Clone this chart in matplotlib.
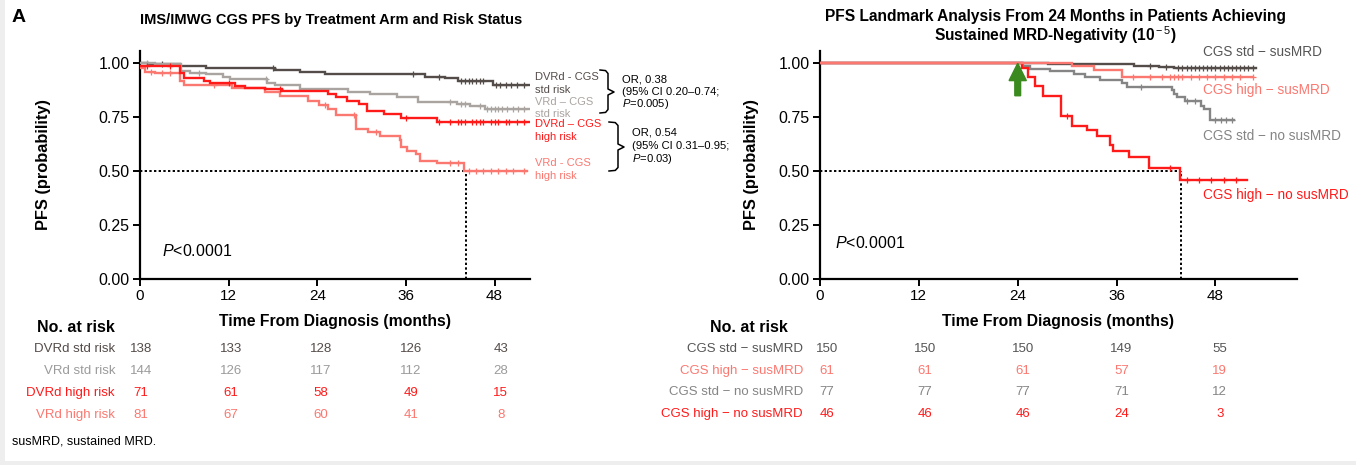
import numpy as np
import matplotlib
matplotlib.use('Agg')
import matplotlib.pyplot as plt
from matplotlib.transforms import blended_transform_factory
from matplotlib.lines import Line2D
from matplotlib.patches import Rectangle, FancyArrow

plt.rcParams['font.family'] = ['Liberation Sans', 'DejaVu Sans']
plt.rcParams['mathtext.fontset'] = 'custom'
plt.rcParams['mathtext.rm'] = 'Liberation Sans'
plt.rcParams['mathtext.it'] = 'Liberation Sans:italic'
plt.rcParams['mathtext.bf'] = 'Liberation Sans:bold'

# ---------------- data ----------------
x_ticks = [0, 12, 24, 36, 48]
y_ticks = [0.0, 0.25, 0.50, 0.75, 1.00]
y_ticklabels = ["0.00", "0.25", "0.50", "0.75", "1.00"]

# Left panel: IMS/IMWG CGS PFS by arm and risk
dvrd_std_t = [1.1, 5.4, 9.0, 18.3, 21.7, 25.0, 38.6, 41.3, 43.0, 47.8]
dvrd_std_s = [0.994, 0.986, 0.975, 0.966, 0.958, 0.948, 0.937, 0.930, 0.917, 0.897]
dvrd_std_c = [3, 18, 37, 40.5, 43.5, 44, 44.5, 45, 45.5, 46, 46.5, 48.2, 48.8, 49.5, 50.2, 51, 52]

vrd_std_t = [2.0, 5.6, 6.8, 9.0, 11.3, 12.2, 17.2, 18.3, 21.7, 28.2, 31.2, 34.8, 37.7, 42.9, 44.7, 46.7]
vrd_std_s = [0.995, 0.963, 0.955, 0.948, 0.937, 0.925, 0.909, 0.897, 0.879, 0.866, 0.856, 0.840,
             0.820, 0.810, 0.799, 0.787]
vrd_std_c = [1, 8, 17, 42, 43.5, 44, 46, 47, 47.5, 48, 48.5, 49, 49.7, 50.5, 51.2, 52]

dvrd_high_t = [5.4, 5.9, 8.6, 9.5, 12.9, 14.2, 16.9, 19.2, 25.5, 26.6, 28.0, 29.6, 30.7, 33.0, 35.4, 40.2]
dvrd_high_s = [0.955, 0.932, 0.917, 0.909, 0.894, 0.886, 0.879, 0.871, 0.856, 0.840, 0.825, 0.809,
               0.779, 0.764, 0.745, 0.728]
dvrd_high_c = [1, 4, 12, 19, 36, 40.5, 42, 43, 43.5, 44, 45, 45.5, 46, 46.5, 47.5, 48, 48.5, 49.5, 50, 51, 52]

vrd_high_t = [0.7, 2.0, 5.4, 5.9, 12.4, 16.9, 19.0, 22.8, 24.2, 25.5, 26.5, 29.3, 30.9, 32.5, 35.2,
              35.4, 36.1, 37.3, 37.9, 40.2, 43.9]
vrd_high_s = [0.958, 0.955, 0.917, 0.897, 0.886, 0.863, 0.848, 0.825, 0.805, 0.787, 0.760, 0.694,
              0.679, 0.664, 0.641, 0.610, 0.594, 0.579, 0.548, 0.536, 0.498]
vrd_high_c = [1.5, 3, 4, 10, 25, 29, 32, 42, 43, 44.5, 45.5, 46.5, 47.5, 48.5, 49.5, 50.5, 52]

# Right panel: landmark from 24 months
std_sus_t = [27.7, 38.1, 41.1, 43.0]
std_sus_s = [0.993, 0.987, 0.980, 0.975]
std_sus_c = [40, 42, 43.5, 44, 44.5, 45, 45.5, 46, 46.5, 47, 47.5, 48, 48.5, 49, 49.5, 50, 50.5, 51, 51.5, 52, 52.5]

high_sus_t = [30.6, 33.2, 36.7]
high_sus_s = [0.984, 0.968, 0.935]
high_sus_c = [38, 40, 41.5, 42.5, 43, 43.5, 44, 45, 46, 47, 48, 49, 50, 51, 52.5]

std_nosus_t = [24.7, 25.5, 27.9, 30.8, 32.2, 34.0, 36.6, 37.3, 42.7, 43.0, 43.3, 44.3, 46.2, 46.6, 47.4]
std_nosus_s = [0.987, 0.974, 0.961, 0.948, 0.935, 0.922, 0.909, 0.887, 0.873, 0.858, 0.840, 0.825,
               0.801, 0.786, 0.735]
std_nosus_c = [39, 44.5, 45.5, 48, 48.7, 49.3, 50]

high_nosus_t = [24.5, 25.3, 26.1, 27.1, 29.2, 30.6, 32.4, 33.6, 35.2, 35.6, 37.5, 39.9, 43.7]
high_nosus_s = [0.978, 0.935, 0.891, 0.848, 0.754, 0.710, 0.688, 0.664, 0.618, 0.590, 0.565, 0.515, 0.457]
high_nosus_c = [30, 42.5, 44.5, 46, 47.5, 49, 50.5]

left_rows = ["DVRd std risk", "VRd std risk", "DVRd high risk", "VRd high risk"]
left_risk = [[138, 133, 128, 126, 43],
             [144, 126, 117, 112, 28],
             [71, 61, 58, 49, 15],
             [81, 67, 60, 41, 8]]
right_rows = ["CGS std \u2212 susMRD", "CGS high \u2212 susMRD", "CGS std \u2212 no susMRD", "CGS high \u2212 no susMRD"]
right_risk = [[150, 150, 150, 149, 55],
              [61, 61, 61, 57, 19],
              [77, 77, 77, 71, 12],
              [46, 46, 46, 24, 3]]

# ---------------- colours ----------------
C_DARK = '#544c49'
C_LGRAY = '#aaa4a0'
C_RED = '#ff1a1a'
C_SALMON = '#fb7870'
C_GRAY = '#858585'
C_GREEN = '#3a8a1f'

W, H = 1356, 465


def fx(x):
    return x / W


def fy(y):
    return 1 - y / H


fig = plt.figure(figsize=(W / 100, H / 100), dpi=100)
fig.patch.set_facecolor('#eeeeee')
fig.add_artist(Rectangle((fx(5), 4 / H), 1 - fx(5), 1 - 4 / H, transform=fig.transFigure,
                         facecolor='white', edgecolor='none', zorder=-10))


def style_axes(ax, xmax):
    ax.set_xlim(0, xmax)
    ax.set_ylim(0, 1.055)
    for s in ['top', 'right']:
        ax.spines[s].set_visible(False)
    for s in ['left', 'bottom']:
        ax.spines[s].set_linewidth(1.6)
    ax.set_xticks(x_ticks)
    ax.set_yticks(y_ticks)
    ax.set_yticklabels(y_ticklabels)
    ax.tick_params(length=5, width=1.4, pad=2.5)
    ax.tick_params(axis='x', labelsize=11)
    ax.tick_params(axis='y', labelsize=11.5)
    ax.set_xlabel("Time From Diagnosis (months)", fontsize=11.3, fontweight='bold')
    ax.set_ylabel("PFS (probability)", fontsize=11.8, fontweight='bold')
    ax.patch.set_alpha(0)


def km(ax, t, s, s0, tend, cens, color, lw=1.7, z=3):
    xs = [0] + list(t) + [tend]
    ys = [s0] + list(s) + [s[-1]]
    ax.step(xs, ys, where='post', color=color, lw=lw, zorder=z, solid_joinstyle='miter')
    tt = np.array(t)
    cy = []
    for c in cens:
        i = np.searchsorted(tt, c, side='right')
        cy.append(s0 if i == 0 else s[i - 1])
    ax.plot(cens, cy, ls='none', marker='+', ms=5, mew=0.9, color=color, zorder=z)


# ---------------- left panel ----------------
axL = fig.add_axes([fx(140), fy(279), 390 / W, (279 - 51) / H])
style_axes(axL, 52.8)
axL.plot([0, 44.1], [0.5, 0.5], ls=(0, (1.2, 1.2)), color='black', lw=1.4, zorder=2)
axL.plot([44.1, 44.1], [0, 0.5], ls=(0, (1.2, 1.2)), color='black', lw=1.4, zorder=2)
km(axL, dvrd_std_t, dvrd_std_s, 1.0, 52.6, dvrd_std_c, C_DARK)
km(axL, vrd_std_t, vrd_std_s, 1.0, 52.6, vrd_std_c, C_LGRAY)
km(axL, vrd_high_t, vrd_high_s, 0.978, 52.4, vrd_high_c, C_SALMON)
km(axL, dvrd_high_t, dvrd_high_s, 0.986, 52.6, dvrd_high_c, C_RED)
axL.text(3.0, 0.13, r"$\it{P}$<0.0001", fontsize=11.5, ha='left', va='center')
axL.yaxis.set_label_coords(-0.228, 0.5)
axL.xaxis.set_label_coords(0.5, -0.155)

# ---------------- right panel ----------------
axR = fig.add_axes([fx(820), fy(279), 477 / W, (279 - 51) / H])
style_axes(axR, 57.9)
axR.plot([0, 43.8], [0.5, 0.5], ls=(0, (1.2, 1.2)), color='black', lw=1.4, zorder=2)
axR.plot([43.8, 43.8], [0, 0.5], ls=(0, (1.2, 1.2)), color='black', lw=1.4, zorder=2)
km(axR, std_sus_t, std_sus_s, 1.0, 52.9, std_sus_c, C_DARK)
km(axR, std_nosus_t, std_nosus_s, 1.0, 50.3, std_nosus_c, C_GRAY)
km(axR, high_nosus_t, high_nosus_s, 1.0, 51.8, high_nosus_c, C_RED)
km(axR, high_sus_t, high_sus_s, 1.0, 52.6, high_sus_c, C_SALMON)
axR.add_patch(FancyArrow(24, 0.848, 0, 0.150, width=0.7, head_width=2.1, head_length=0.08,
                         length_includes_head=True, color=C_GREEN, zorder=6))
axR.text(1.8, 0.165, r"$\it{P}$<0.0001", fontsize=11.5, ha='left', va='center')
axR.yaxis.set_label_coords(-0.127, 0.5)
axR.xaxis.set_label_coords(0.5, -0.155)

# ---------------- titles ----------------
fig.text(fx(12), fy(17), "A", fontsize=14, fontweight='bold', ha='left', va='center')
fig.text(fx(331), fy(20), "IMS/IMWG CGS PFS by Treatment Arm and Risk Status", fontsize=10.5,
         fontweight='bold', ha='center', va='center')
fig.text(fx(1055), fy(16), "PFS Landmark Analysis From 24 Months in Patients Achieving", fontsize=11.2,
         fontweight='bold', ha='center', va='center')
fig.text(fx(1055), fy(35), r"Sustained MRD-Negativity (10$^{\rm -5}$)", fontsize=11.2,
         fontweight='bold', ha='center', va='center')

# ---------------- curve labels ----------------
lab_fs = 8
for txt, y, c in [("DVRd - CGS", 77, C_DARK), ("std risk", 90, C_DARK),
                  ("VRd \u2013 CGS", 102, C_LGRAY), ("std risk", 114, C_LGRAY),
                  ("DVRd \u2013 CGS", 124, C_RED), ("high risk", 137, C_RED),
                  ("VRd - CGS", 163, C_SALMON), ("high risk", 176, C_SALMON)]:
    fig.text(fx(535), fy(y), txt, fontsize=lab_fs, color=c, ha='left', va='center')

or_fs = 8.1
for txt, x, y in [("OR, 0.38", 622, 79), ("(95% CI 0.20\u20130.74;", 622, 92), (r"$\it{P}$=0.005)", 622, 104),
                  ("OR, 0.54", 632, 132), ("(95% CI 0.31\u20130.95;", 632, 146), (r"$\it{P}$=0.03)", 632, 159)]:
    fig.text(fx(x), fy(y), txt, fontsize=or_fs, color='black', ha='left', va='center')


def brace(x0, xv, xtip, ytop, ymid, ybot):
    pts = [(x0, ytop), (x0 + (xv - x0) * 0.7, ytop + 0.6), (xv, ytop + 3.5), (xv, ymid - 3),
           (xtip, ymid), (xv, ymid + 3), (xv, ybot - 3.5), (x0 + (xv - x0) * 0.7, ybot - 0.6), (x0, ybot)]
    xs = [fx(p[0]) for p in pts]
    ys = [fy(p[1]) for p in pts]
    fig.add_artist(Line2D(xs, ys, transform=fig.transFigure, color='black', lw=1.1))


brace(600, 608, 614, 70, 92, 113)
brace(609, 618, 624, 122, 147, 171)

rfs = 9.8
for txt, y, c in [("CGS std \u2212 susMRD", 52, '#555555'), ("CGS high \u2212 susMRD", 90, C_SALMON),
                  ("CGS std \u2212 no susMRD", 136, C_GRAY), ("CGS high \u2212 no susMRD", 195, C_RED)]:
    fig.text(fx(1203), fy(y), txt, fontsize=rfs, color=c, ha='left', va='center')

# ---------------- number at risk ----------------
tab_fs = 9.5
fig.text(fx(115), fy(328), "No. at risk", fontsize=11.5, fontweight='bold', ha='right', va='center')
fig.text(fx(788), fy(328), "No. at risk", fontsize=11.5, fontweight='bold', ha='right', va='center')

left_cols = [C_DARK, '#9b9b9b', C_RED, C_SALMON]
right_cols = ['#555555', C_SALMON, C_GRAY, C_RED]
left_y = [349, 371, 393, 415]
right_y = [349, 371, 392, 414]
trL = blended_transform_factory(axL.transData, fig.transFigure)
trR = blended_transform_factory(axR.transData, fig.transFigure)
for i in range(4):
    fig.text(fx(115), fy(left_y[i]), left_rows[i], fontsize=tab_fs, color=left_cols[i], ha='right', va='center')
    fig.text(fx(803), fy(right_y[i]), right_rows[i], fontsize=tab_fs, color=right_cols[i], ha='right', va='center')
    for j, xt in enumerate(x_ticks):
        fig.text(xt + 0.15 + j * 0.17, fy(left_y[i]), str(left_risk[i][j]), transform=trL, fontsize=tab_fs,
                 color=left_cols[i], ha='center', va='center')
        fig.text(xt + 0.8 - j * 0.07, fy(right_y[i]), str(right_risk[i][j]), transform=trR, fontsize=tab_fs,
                 color=right_cols[i], ha='center', va='center')

fig.text(fx(12), fy(441), "susMRD, sustained MRD.", fontsize=9, ha='left', va='center')

fig.savefig('out.png', dpi=100, facecolor=fig.get_facecolor())
